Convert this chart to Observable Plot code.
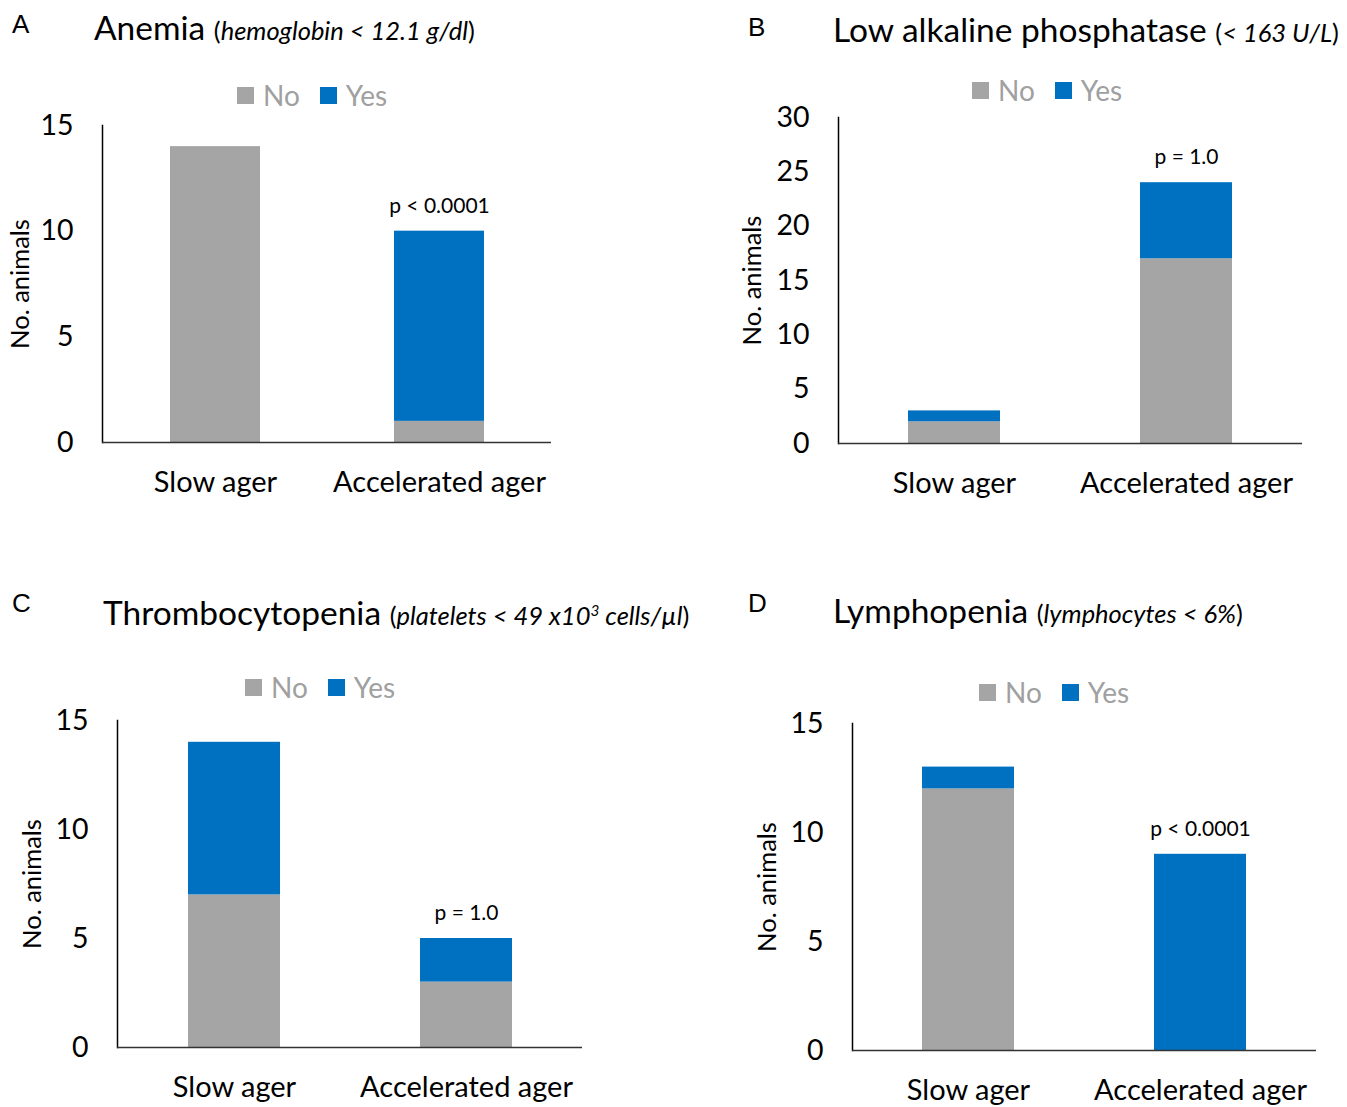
<!DOCTYPE html>
<html>
<head>
<meta charset="utf-8">
<script src="https://cdn.jsdelivr.net/npm/d3@7"></script>
<script src="https://cdn.jsdelivr.net/npm/@observablehq/plot@0.6"></script>
<style>
  html, body { margin: 0; padding: 0; background: #fff; }
  #root { position: relative; width: 1347px; height: 1107px; overflow: hidden; font-family: Lato, "Open Sans", sans-serif; }
  .abs { position: absolute; }
  .letter { font-family: "Liberation Sans", Arial, sans-serif; font-size: 26px; color: #000; line-height: 30px; }
  .title { font-size: 33.5px; color: #000; line-height: 38px; white-space: nowrap; }
  .title .sub { font-size: 25.5px; }
  .title .sub i { font-style: italic; }
  .legend { font-size: 28px; color: #a0a0a0; line-height: 30px; white-space: nowrap; display: flex; align-items: center; }
  .legend .sw { display: inline-block; width: 17px; height: 17px; margin-right: 9px; }
  .legend .item { display: inline-flex; align-items: center; margin-right: 20px; }
</style>
</head>
<body>
<div id="root"></div>
<script>
// ---------------- data ----------------
const groups = ["Slow ager", "Accelerated ager"];
const series = ["No", "Yes"];
const seriesColors = ["#a5a5a5", "#0070c0"];

const anemiaNo = [14, 1];
const anemiaYes = [0, 9];
const alpNo = [2, 17];
const alpYes = [1, 7];
const thrombNo = [7, 3];
const thrombYes = [7, 2];
const lymphNo = [12, 0];
const lymphYes = [1, 9];

const ticks15 = [0, 5, 10, 15];
const ticks30 = [0, 5, 10, 15, 20, 25, 30];

const panelLetters = ["A", "B", "C", "D"];
const panelTitles = ["Anemia", "Low alkaline phosphatase", "Thrombocytopenia", "Lymphopenia"];
const panelSubtitles = [
  "(<i>hemoglobin &lt; 12.1 g/dl</i>)",
  "(<i>&lt; 163 U/L</i>)",
  "(<i>platelets &lt; 49 x10<sup style=\"font-size:0.6em\">3</sup> cells/µl</i>)",
  "(<i>lymphocytes &lt; 6%</i>)"
];
const pLabels = ["p < 0.0001", "p = 1.0", "p = 1.0", "p < 0.0001"];
const yLabel = "No. animals";

// ---------------- layout ----------------
const panels = [
  { no: anemiaNo, yes: anemiaYes, yMax: 15, ticks: ticks15,
    svg: {left: 0, top: 110, width: 570, height: 400, ml: 102, mr: 19, mt: 15, mb: 68}, inset: 67,
    letter: [12, 9], title: [94, 8], legend: [237, 80], labelDx: -82 },
  { no: alpNo, yes: alpYes, yMax: 30, ticks: ticks30,
    svg: {left: 735, top: 100, width: 600, height: 410, ml: 103, mr: 33, mt: 17, mb: 67}, inset: 70,
    letter: [748, 12], title: [833, 10], legend: [972, 75], labelDx: -86 },
  { no: thrombNo, yes: thrombYes, yMax: 15, ticks: ticks15,
    svg: {left: 0, top: 705, width: 600, height: 402, ml: 117, mr: 18, mt: 15, mb: 60}, inset: 70,
    letter: [12, 588], title: [103, 590], legend: [245, 672], labelDx: -85 },
  { no: lymphNo, yes: lymphYes, yMax: 15, ticks: ticks15,
    svg: {left: 735, top: 708, width: 612, height: 399, ml: 117, mr: 31, mt: 15, mb: 57}, inset: 70,
    letter: [748, 588], title: [833, 591], legend: [979, 677], labelDx: -85 }
];

const FONT = "Lato, 'Open Sans', sans-serif";
const root = document.getElementById("root");

function place(el, x, y) {
  el.classList.add("abs");
  el.style.left = x + "px";
  el.style.top = y + "px";
  root.appendChild(el);
  return el;
}

panels.forEach((p, k) => {
  const L = document.createElement("div");
  L.className = "letter";
  L.textContent = panelLetters[k];
  place(L, p.letter[0], p.letter[1]);

  const T = document.createElement("div");
  T.className = "title";
  T.innerHTML = panelTitles[k] + ' <span class="sub">' + panelSubtitles[k] + "</span>";
  place(T, p.title[0], p.title[1]);

  const G = document.createElement("div");
  G.className = "legend";
  series.forEach((s, i) => {
    const item = document.createElement("span");
    item.className = "item";
    const sw = document.createElement("span");
    sw.className = "sw";
    sw.style.background = seriesColors[i];
    item.appendChild(sw);
    item.appendChild(document.createTextNode(s));
    G.appendChild(item);
  });
  place(G, p.legend[0], p.legend[1]);

  const rows = [];
  groups.forEach((g, i) => {
    rows.push({group: g, series: "No", value: p.no[i]});
    rows.push({group: g, series: "Yes", value: p.yes[i]});
  });
  const pRow = [{group: groups[1], total: p.no[1] + p.yes[1], label: pLabels[k]}];

  const s = p.svg;
  const chart = Plot.plot({
    width: s.width,
    height: s.height,
    marginLeft: s.ml,
    marginRight: s.mr,
    marginTop: s.mt,
    marginBottom: s.mb,
    style: {fontFamily: FONT, background: "transparent", color: "#000", overflow: "visible"},
    x: {domain: groups, padding: 0, axis: null},
    y: {domain: [0, p.yMax], axis: null},
    color: {domain: series, range: seriesColors},
    marks: [
      Plot.barY(rows, {x: "group", y: "value", fill: "series", insetLeft: p.inset, insetRight: p.inset}),
      Plot.axisY({ticks: p.ticks, tickSize: 0, tickPadding: 29, fontSize: 28.5, label: null, tickFormat: d => String(d)}),
      Plot.axisX({tickSize: 0, tickPadding: 29, fontSize: 29, label: null}),
      Plot.frame({anchor: "left", stroke: "#000", strokeWidth: 1.5}),
      Plot.ruleY([0], {stroke: "#333", strokeWidth: 1.5}),
      Plot.text([yLabel], {frameAnchor: "left", textAnchor: "middle", rotate: -90, dx: p.labelDx, fontSize: 25.5, text: d => d, fill: "#000"}),
      Plot.text(pRow, {x: "group", y: "total", text: "label", dy: -25, fontSize: 21, fill: "#000"})
    ]
  });
  chart.classList.add("abs");
  chart.style.left = s.left + "px";
  chart.style.top = s.top + "px";
  chart.style.position = "absolute";
  root.appendChild(chart);
});
</script>
</body>
</html>
